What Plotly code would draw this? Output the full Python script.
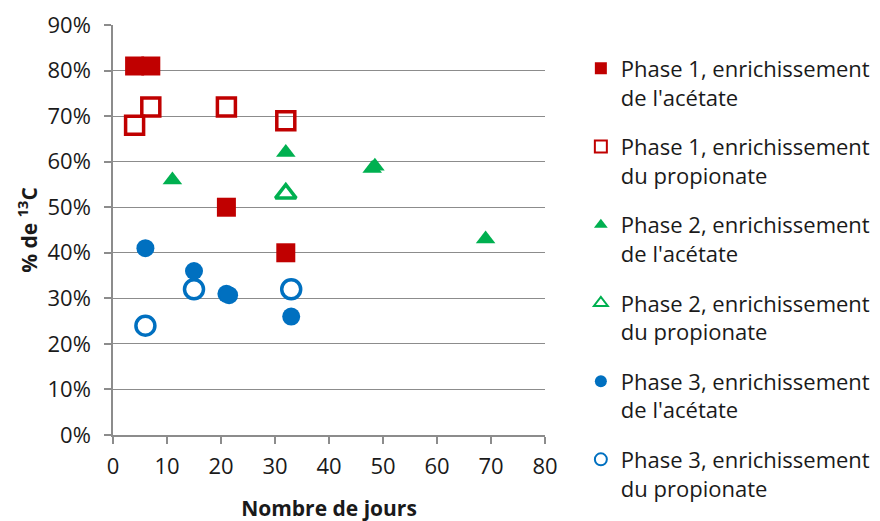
import plotly.graph_objects as go

# Data (days, % 13C)
p1_ace_x = [4, 7, 21, 32]
p1_ace_y = [0.81, 0.81, 0.50, 0.40]
p1_pro_x = [4, 7, 21, 32]
p1_pro_y = [0.68, 0.72, 0.72, 0.69]
p2_ace_x = [11, 32, 48, 48.5, 69]
p2_ace_y = [0.56, 0.62, 0.585, 0.59, 0.43]
p2_pro_x = [32]
p2_pro_y = [0.53]
p3_ace_x = [6, 15, 21, 21.5, 33]
p3_ace_y = [0.41, 0.36, 0.31, 0.307, 0.26]
p3_pro_x = [6, 15, 33]
p3_pro_y = [0.24, 0.32, 0.32]

names = [
    "Phase 1, enrichissement<br>de l'acétate",
    "Phase 1, enrichissement<br>du propionate",
    "Phase 2, enrichissement<br>de l'acétate",
    "Phase 2, enrichissement<br>du propionate",
    "Phase 3, enrichissement<br>de l'acétate",
    "Phase 3, enrichissement<br>du propionate",
]

RED = "#C00000"
GREEN = "#00B050"
BLUE = "#0070C0"

series = [
    (p1_ace_x, p1_ace_y, "square", RED, True, 19),
    (p1_pro_x, p1_pro_y, "square-open", RED, False, 18),
    (p2_ace_x, p2_ace_y, "triangle-up", GREEN, True, 17),
    (p2_pro_x, p2_pro_y, "triangle-up-open", GREEN, False, 18),
    (p3_ace_x, p3_ace_y, "circle", BLUE, True, 18),
    (p3_pro_x, p3_pro_y, "circle-open", BLUE, False, 19),
]

fig = go.Figure()
for i, (xs, ys, sym, col, filled, sz) in enumerate(series):
    fig.add_trace(go.Scatter(
        x=xs, y=ys, mode="markers", name=names[i],
        legendgroup=f"g{i}",
        marker=dict(symbol=sym, color=col, size=sz,
                    line=dict(color=col, width=3.5 if not filled else 0)),
    ))

FONT = "Open Sans, DejaVu Sans"
tick_font = dict(family=FONT, size=22, color="#1a1a1a")
fig.update_layout(
    width=880, height=521,
    margin=dict(l=105, r=343, t=17, b=94, autoexpand=False),
    paper_bgcolor="white", plot_bgcolor="white",
    font=dict(family=FONT, size=21, color="#1a1a1a"),
    showlegend=True,
    legend=dict(x=1.083, y=0.945, xanchor="left", yanchor="top",
                valign="top", maxheight=520,
                font=dict(family=FONT, size=22, color="#1a1a1a"),
                tracegroupgap=18, itemsizing="constant"),
    xaxis=dict(range=[0, 80], dtick=10, showgrid=False, zeroline=False,
               showline=True, linecolor="#8c8c8c", linewidth=1.5,
               ticks="outside", ticklen=7, tickcolor="#8c8c8c", tickwidth=1.5,
               tickfont=tick_font, ticklabelstandoff=4,
               title=dict(text="<b>Nombre de jours</b>",
                          font=dict(family=FONT, size=21), standoff=22)),
    yaxis=dict(range=[0, 0.9], dtick=0.1, tickformat=".0%", showgrid=True,
               gridcolor="#8c8c8c", gridwidth=1.3, zeroline=False,
               showline=True, linecolor="#8c8c8c", linewidth=1.5,
               ticks="outside", ticklen=7, tickcolor="#8c8c8c", tickwidth=1.5,
               tickfont=tick_font, ticklabelstandoff=9,
               title=dict(text="<b>% de <sup>13</sup>C</b>",
                          font=dict(family=FONT, size=21), standoff=4)),
)

fig.write_html("out.html")
